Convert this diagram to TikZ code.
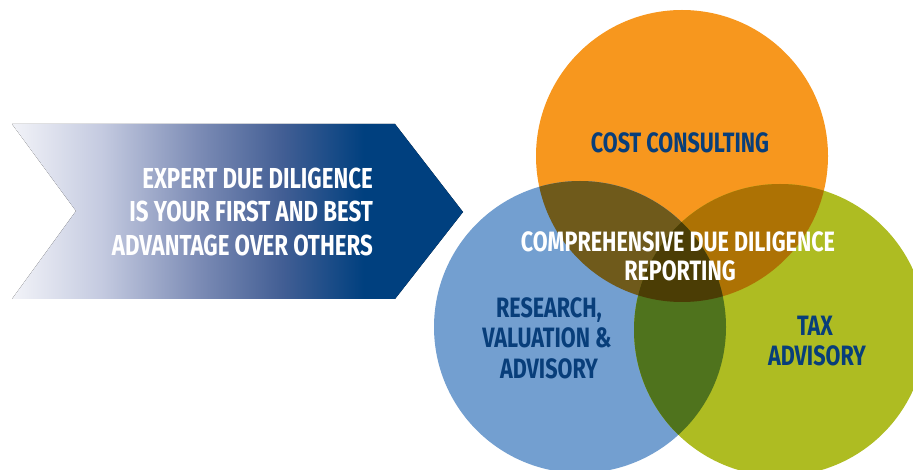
\documentclass[tikz,border=0pt]{standalone}
\usepackage{fontspec}
\newfontfamily\cond[FakeStretch=0.77]{Fira Sans}
\definecolor{ashA}{RGB}{242,243,248}
\definecolor{ashB}{RGB}{196,202,224}
\definecolor{ashC}{RGB}{122,138,180}
\definecolor{ashD}{RGB}{66,94,148}
\definecolor{ashE}{RGB}{0,64,127}
\definecolor{orangeC}{RGB}{247,151,30}
\definecolor{blueC}{RGB}{115,159,208}
\definecolor{greenC}{RGB}{174,188,34}
\definecolor{obC}{RGB}{111,90,27}
\definecolor{ogC}{RGB}{173,114,4}
\definecolor{bgC}{RGB}{79,115,29}
\definecolor{allC}{RGB}{75,61,5}
\definecolor{navyT}{RGB}{8,62,122}
\pgfdeclarehorizontalshading{arrowshade}{100bp}{color(0bp)=(ashA); color(25bp)=(ashA); color(35bp)=(ashB); color(46bp)=(ashC); color(55bp)=(ashD); color(64bp)=(ashE); color(100bp)=(ashE)}
\begin{document}
\begin{tikzpicture}[x=1pt,y=-1pt,
  lbl/.style={font=\cond\bfseries\fontsize{28}{34}\selectfont, inner sep=0pt},
  wlbl/.style={lbl, text=white},
  nlbl/.style={lbl, text=navyT},
  albl/.style={wlbl, font=\cond\bfseries\fontsize{28.9}{34}\selectfont, anchor=base east}]
\useasboundingbox (0,0) rectangle (913,470);
\clip (0,0) rectangle (913,470);
\fill[shading=arrowshade] (12,124) -- (395,124) -- (463,212) -- (395,299) -- (12,299) -- (76,211) -- cycle;
\coordinate (cO) at (682,156);
\coordinate (cB) at (580,327);
\coordinate (cG) at (780,330);
\fill[orangeC] (cO) circle[radius=146];
\fill[blueC] (cB) circle[radius=146];
\fill[greenC] (cG) circle[radius=146];
\begin{scope}\clip (cO) circle[radius=146]; \fill[obC] (cB) circle[radius=146];\end{scope}
\begin{scope}\clip (cO) circle[radius=146]; \fill[ogC] (cG) circle[radius=146];\end{scope}
\begin{scope}\clip (cB) circle[radius=146]; \fill[bgC] (cG) circle[radius=146];\end{scope}
\begin{scope}\clip (cO) circle[radius=146]; \clip (cB) circle[radius=146]; \fill[allC] (cG) circle[radius=146];\end{scope}
\node[albl] (a1) at (373,189) {EXPERT DUE DILIGENCE};
\node[albl] (a2) at (373,222) {IS YOUR FIRST AND BEST};
\node[albl] (a3) at (373,256) {ADVANTAGE OVER OTHERS};
\node[nlbl, anchor=base] (cc) at (680,153) {COST CONSULTING};
\node[wlbl, anchor=base] (r1) at (678,252) {COMPREHENSIVE DUE DILIGENCE};
\node[wlbl, anchor=base] (r2) at (680,281) {REPORTING};
\node[nlbl, anchor=base] (v1) at (549,318) {RESEARCH,};
\node[nlbl, anchor=base] (v2) at (547,348) {VALUATION \&};
\node[nlbl, anchor=base] (v3) at (549,378) {ADVISORY};
\node[nlbl, anchor=base] (t1) at (815,335) {TAX};
\node[nlbl, anchor=base] (t2) at (817,365) {ADVISORY};
\end{tikzpicture}
\end{document}
